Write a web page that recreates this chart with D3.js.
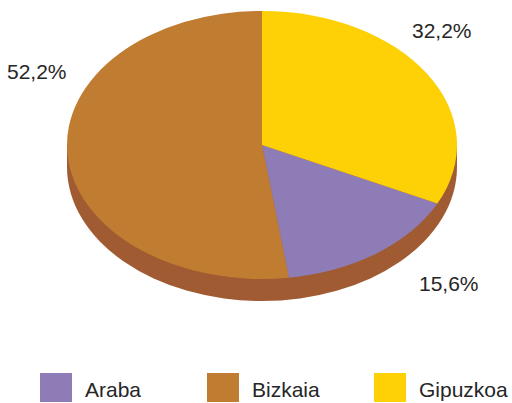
<!DOCTYPE html>
<html>
<head>
<meta charset="utf-8">
<script src="https://cdn.jsdelivr.net/npm/d3@7"></script>
<style>
  body { margin: 0; background: #fff; }
  svg { display: block; font-family: "Liberation Sans", Arial, sans-serif; }
</style>
</head>
<body>
<div id="chart"></div>
<script>
// data
var categories = ["Araba", "Bizkaia", "Gipuzkoa"];
var values = [15.6, 52.2, 32.2];
var pieOrder = ["Gipuzkoa", "Araba", "Bizkaia"]; // clockwise from 12 o'clock
var labels = ["15,6%", "52,2%", "32,2%"];

var W = 512, H = 403;
var cx = 262, cy = 145, rx = 195, ry = 134, depth = 22;

var color = d3.scaleOrdinal()
    .domain(categories)
    .range(["#8E7CB7", "#C07C31", "#FDD106"]);
var sideColor = "#A15B33";

var svg = d3.select("#chart").append("svg")
    .attr("width", W)
    .attr("height", H);

var rows = categories.map(function(c, i){ return {name: c, value: values[i], label: labels[i]}; });

var pie = d3.pie()
    .value(function(d){ return d.value; })
    .sort(function(a, b){ return pieOrder.indexOf(a.name) - pieOrder.indexOf(b.name); })
    .startAngle(0)
    .endAngle(2 * Math.PI);

var arcs = pie(rows);
var arc = d3.arc().innerRadius(0).outerRadius(rx);

// side wall (all one colour)
var side = svg.append("g");
side.append("ellipse")
    .attr("cx", cx).attr("cy", cy + depth)
    .attr("rx", rx).attr("ry", ry)
    .style("fill", sideColor);
side.append("rect")
    .attr("x", cx - rx).attr("y", cy)
    .attr("width", 2 * rx).attr("height", depth)
    .style("fill", sideColor);

// top surface
svg.append("g")
    .attr("transform", "translate(" + cx + "," + cy + ") scale(1," + (ry / rx) + ")")
  .selectAll("path")
  .data(arcs)
  .join("path")
    .attr("d", arc)
    .style("fill", function(d){ return color(d.data.name); });

// data labels (layout positions, as placed in the original)
var labelPos = {
  "Gipuzkoa": [412, 38],
  "Bizkaia": [7, 79],
  "Araba": [419, 291]
};
svg.append("g")
  .selectAll("text")
  .data(arcs)
  .join("text")
    .attr("x", function(d){ return labelPos[d.data.name][0]; })
    .attr("y", function(d){ return labelPos[d.data.name][1]; })
    .style("font-size", "21px")
    .style("fill", "#262626")
    .text(function(d){ return d.data.label; });

// legend
var lx = d3.scalePoint().domain(categories).range([40, 374]);
var leg = svg.append("g")
  .selectAll("g")
  .data(categories)
  .join("g")
    .attr("transform", function(d){ return "translate(" + lx(d) + ",373)"; });
leg.append("rect")
    .attr("width", 32).attr("height", 29)
    .style("fill", function(d){ return color(d); });
leg.append("text")
    .attr("x", 45).attr("y", 24)
    .style("font-size", "21px")
    .style("fill", "#262626")
    .text(function(d){ return d; });
</script>
</body>
</html>
